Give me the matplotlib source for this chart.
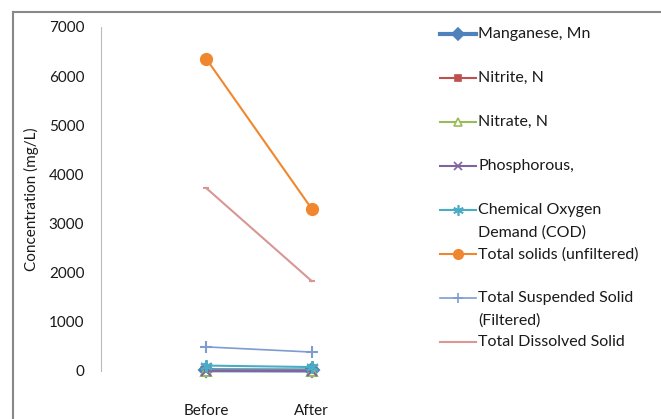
import matplotlib.pyplot as plt
from matplotlib.lines import Line2D

plt.rcParams['font.family'] = ['Lato', 'DejaVu Sans']

# data
stages = ['Before', 'After']
manganese = [15, 10]
nitrite = [0.5, 0.3]
nitrate = [8, 5]
phosphorous = [2, 1]
cod = [110, 80]
total_solids = [6350, 3300]
tss = [490, 385]
tds = [3720, 1830]

series = [
    ('Manganese, Mn', manganese, '#4F81BD', 'D', 7, 3.0, True),
    ('Nitrite, N', nitrite, '#C0504D', 's', 5, 1.5, True),
    ('Nitrate, N', nitrate, '#9BBB59', '^', 7, 1.5, False),
    ('Phosphorous,', phosphorous, '#8064A2', 'x', 7, 1.5, True),
    ('Chemical Oxygen\nDemand (COD)', cod, '#4BACC6', (6, 2, 0), 9, 1.5, True),
    ('Total solids (unfiltered)', total_solids, '#F0872E', 'o', 8, 1.5, True),
    ('Total Suspended Solid\n(Filtered)', tss, '#7E9CD2', '+', 9, 1.2, True),
    ('Total Dissolved Solid', tds, '#D99694', '_', 5, 1.5, True),
]

fig = plt.figure(figsize=(6.61, 4.19), dpi=100)
ax = fig.add_axes([0.1528, 0.1146, 0.4782, 0.8210])

x = list(range(len(stages)))
for name, vals, col, mk, ms, lw, filled in series:
    ax.plot(x, vals, color=col, lw=lw, marker=mk, markersize=ms,
            markerfacecolor=col if filled else 'white',
            markeredgecolor=col, markeredgewidth=1.5, clip_on=False)

ax.set_xlim(-1, 2)
ax.set_ylim(0, 7000)
ax.set_yticks(range(0, 7001, 1000))
ax.set_xticks(x)
ax.set_xticklabels(stages)
ax.tick_params(axis='both', length=0, labelsize=11, colors='#1a1a1a')
ax.tick_params(axis='y', pad=12)
ax.tick_params(axis='x', pad=24)
for s in ['top', 'right', 'bottom']:
    ax.spines[s].set_visible(False)
ax.spines['left'].set_color('#BBBBBB')
ax.set_ylabel('Concentration (mg/L)', fontsize=11, color='#1a1a1a', labelpad=7)

# legend drawn by hand, Excel style
top = 1 - 34 / 419
step = 44 / 419
x0, x1 = 440 / 661, 476 / 661
for i, (name, vals, col, mk, ms, lw, filled) in enumerate(series):
    yy = top - i * step
    fig.add_artist(Line2D([x0, (x0 + x1) / 2, x1], [yy, yy, yy], color=col, lw=lw,
                          marker=mk, markersize=ms * 0.85, markevery=[1],
                          markerfacecolor=col if filled else 'white',
                          markeredgecolor=col, markeredgewidth=1.2))
    fig.text(478 / 661, yy + 7 / 419, name, fontsize=11.5, color='#1a1a1a', va='top',
             linespacing=1.75)

# outer chart border (partly visible)
fig.add_artist(Line2D([13 / 661, 1], [1 - 12 / 419, 1 - 12 / 419], color='#888888', lw=1.5))
fig.add_artist(Line2D([13 / 661, 13 / 661], [0, 1 - 12 / 419], color='#888888', lw=1.5))

fig.savefig('out.png', dpi=100)
